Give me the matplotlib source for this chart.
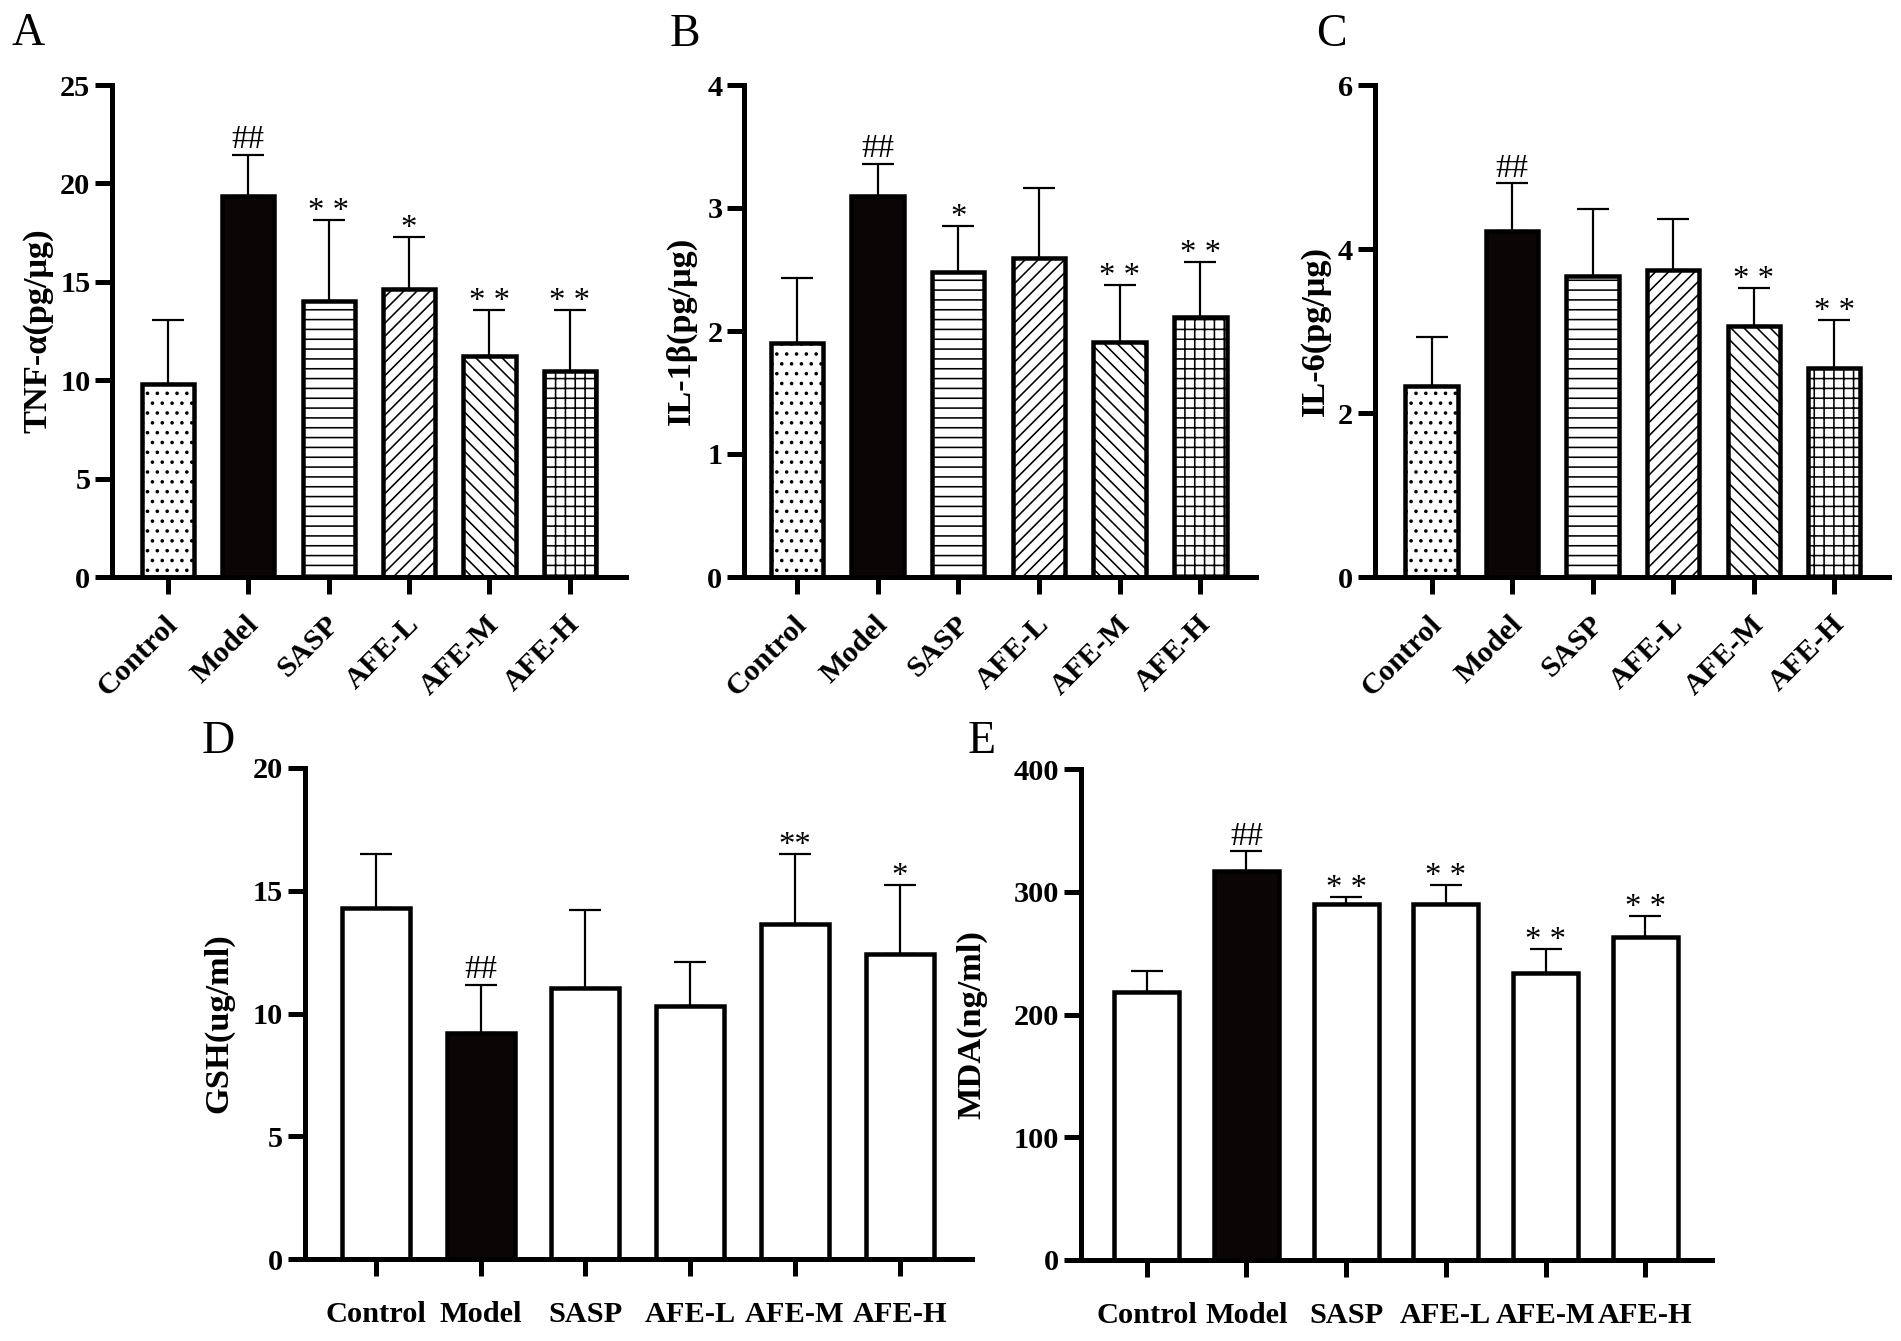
import numpy as np
import matplotlib
matplotlib.use('Agg')
import matplotlib.pyplot as plt
import matplotlib.transforms as mtransforms

DPI = 118
W, H = 1902, 1341


def pt(px):
    # pixels -> points at the figure dpi
    return px * 72.0 / DPI


plt.rcParams['font.family'] = ['Liberation Serif', 'DejaVu Serif']
plt.rcParams['hatch.linewidth'] = pt(1.6)
plt.rcParams['hatch.color'] = 'black'

# data
groups = ['Control', 'Model', 'SASP', 'AFE-L', 'AFE-M', 'AFE-H']

tnf_mean = [9.8, 19.35, 14.0, 14.65, 11.25, 10.45]
tnf_sd = [3.25, 2.1, 4.15, 2.65, 2.3, 3.1]
tnf_sig = ['', '##', '* *', '*', '* *', '* *']

il1b_mean = [1.90, 3.10, 2.48, 2.59, 1.91, 2.11]
il1b_sd = [0.53, 0.26, 0.37, 0.57, 0.46, 0.45]
il1b_sig = ['', '##', '*', '', '* *', '* *']

il6_mean = [2.33, 4.22, 3.67, 3.74, 3.06, 2.55]
il6_sd = [0.60, 0.58, 0.82, 0.62, 0.47, 0.58]
il6_sig = ['', '##', '', '', '* *', '* *']

gsh_mean = [14.28, 9.2, 11.05, 10.31, 13.64, 12.41]
gsh_sd = [2.22, 1.97, 3.15, 1.80, 2.86, 2.84]
gsh_sig = ['', '##', '', '', '**', '*']

mda_mean = [218, 317, 290, 290, 234, 263]
mda_sd = [17.5, 16, 6, 15.5, 19.5, 17.3]
mda_sig = ['', '##', '* *', '* *', '* *', '* *']

top_hatches = ['..', None, '--', '///', '\\\\\\', '++']
no_hatches = [None] * 6

fig = plt.figure(figsize=(W / DPI, H / DPI), dpi=DPI)


def add_axes(left, right, top, bottom):
    # pixel box -> figure fraction
    return fig.add_axes([left / W, 1 - bottom / H, (right - left) / W, (bottom - top) / H])


def panel(ax, mean, sd, sig, yticks, ylabel, xlim, hatches, rotate, label_x, label_y=0.5):
    x = np.arange(len(groups))
    colors = ['#0a0606' if g == 'Model' else 'white' for g in groups]
    ax.errorbar(x, mean, yerr=[np.zeros(len(sd)), sd], fmt='none', ecolor='black',
                elinewidth=pt(2.2), capsize=pt(16), capthick=pt(2.2), zorder=1)
    bars = ax.bar(x, mean, width=0.65, color=colors, edgecolor='black',
                  linewidth=pt(4.5), zorder=2)
    for b, h in zip(bars, hatches):
        if h:
            b.set_hatch(h)

    for xi, m, s, t in zip(x, mean, sd, sig):
        if not t:
            continue
        off = 4 if '#' in t else 0
        ax.annotate(t, (xi, m + s), xytext=(0, off), textcoords='offset points',
                    ha='center', va='baseline', fontsize=20)

    ax.set_xlim(*xlim)
    ax.set_ylim(yticks[0], yticks[-1])
    for side in ['top', 'right']:
        ax.spines[side].set_visible(False)
    for side in ['left', 'bottom']:
        ax.spines[side].set_linewidth(pt(5))

    ax.set_yticks(yticks)
    ax.set_yticklabels([str(t) for t in yticks], fontweight='bold', fontsize=18.5)
    ax.set_xticks(x)
    ax.tick_params(axis='both', direction='out', length=pt(17), width=pt(5))
    ax.tick_params(axis='y', pad=pt(5))
    if rotate:
        ax.tick_params(axis='x', pad=16)
        ax.set_xticklabels(groups, fontweight='bold', fontsize=18.5, rotation=45,
                           ha='right', va='center', rotation_mode='anchor')
        shift = mtransforms.ScaledTranslation(6 / DPI, 0, fig.dpi_scale_trans)
        for lab in ax.get_xticklabels():
            lab.set_transform(lab.get_transform() + shift)
    else:
        ax.tick_params(axis='x', pad=15)
        ax.set_xticklabels(groups, fontweight='bold', fontsize=18.5)

    ax.set_ylabel(ylabel, fontweight='bold', fontsize=21, va='center', ha='center')
    ax.yaxis.set_label_coords(label_x, label_y)


axA = add_axes(112.5, 626, 85, 577)
panel(axA, tnf_mean, tnf_sd, tnf_sig, [0, 5, 10, 15, 20, 25], 'TNF-α(pg/μg)',
      (-0.69, 5.70), top_hatches, True, -0.146)

axB = add_axes(744.4, 1256, 85, 577)
panel(axB, il1b_mean, il1b_sd, il1b_sig, [0, 1, 2, 3, 4], 'IL-1β(pg/μg)',
      (-0.65, 5.69), top_hatches, True, -0.124)

axC = add_axes(1375.2, 1889, 85, 577)
panel(axC, il6_mean, il6_sd, il6_sig, [0, 2, 4, 6], 'IL-6(pg/μg)',
      (-0.70, 5.68), top_hatches, True, -0.116)

axD = add_axes(305, 972, 768, 1259)
panel(axD, gsh_mean, gsh_sd, gsh_sig, [0, 5, 10, 15, 20], 'GSH(ug/ml)',
      (-0.677, 5.69), no_hatches, False, -0.130, 0.48)

axE = add_axes(1081, 1712, 769, 1260)
panel(axE, mda_mean, mda_sd, mda_sig, [0, 100, 200, 300, 400], 'MDA(ng/ml)',
      (-0.659, 5.67), no_hatches, False, -0.173, 0.48)

# panel letters
for letter, lx, base in [('A', 11.7, 45), ('B', 670, 46), ('C', 1316, 46),
                         ('D', 202, 753), ('E', 968, 753)]:
    fig.text(lx / W, 1 - base / H, letter, fontsize=28, ha='left', va='baseline')

fig.savefig('out.png', dpi=DPI)
